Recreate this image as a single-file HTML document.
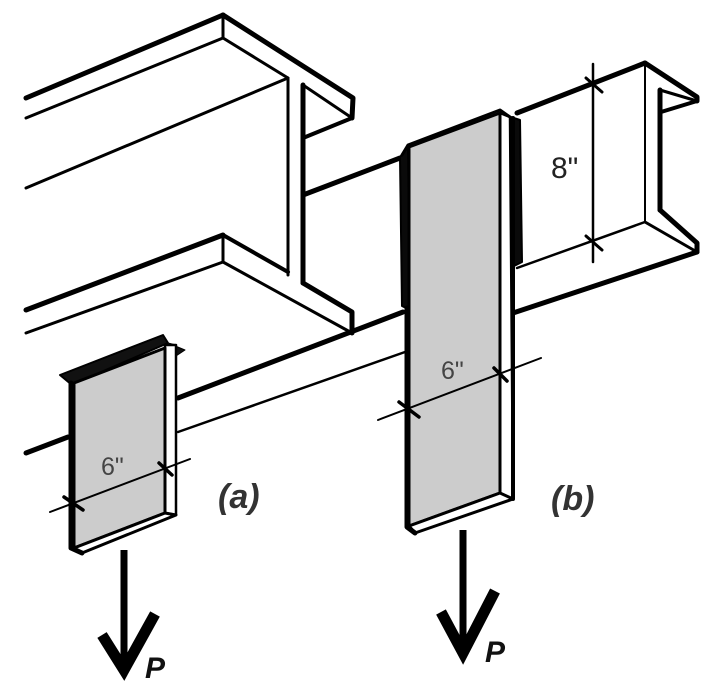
<!DOCTYPE html>
<html><head><style>html,body{margin:0;padding:0;background:#fff}svg{display:block}</style></head><body>
<svg width="716" height="687" viewBox="0 0 716 687" xmlns="http://www.w3.org/2000/svg" stroke="#000" fill="none" stroke-linecap="round" stroke-linejoin="round">
<!-- Left channel -->
<g>
<path d="M26,98 L223,15" stroke-width="5"/>
<path d="M26,118 L223,38" stroke-width="3"/>
<path d="M223,15 L223,38" stroke-width="3"/>
<path d="M223,15 L353,98 L352,118" stroke-width="5"/>
<path d="M223,38 L288,78" stroke-width="3"/>
<path d="M26,188 L288,78 L288,275" stroke-width="3"/>
<path d="M303,85 L303,283" stroke-width="5"/>
<path d="M303,85 L352,118" stroke-width="3"/>
<path d="M303,138 L352,118" stroke-width="4"/>
<path d="M26,310 L223,235" stroke-width="5"/>
<path d="M223,235 L223,262" stroke-width="3"/>
<path d="M26,333 L223,262" stroke-width="3"/>
<path d="M223,235 L288,272" stroke-width="4"/>
<path d="M223,262 L352,333" stroke-width="3"/>
<path d="M303,283 L352,312 L352,333" stroke-width="5"/>
</g>
<!-- Right channel -->
<g>
<path d="M303,195 L400,158" stroke-width="5"/>
<path d="M517,113 L645,63" stroke-width="5"/>
<path d="M645,63 L697,97 L697,101" stroke-width="5"/>
<path d="M660,90 L660,210" stroke-width="5"/>
<path d="M660,90 L697,101" stroke-width="3"/>
<path d="M661,112 L697,101" stroke-width="4"/>
<path d="M645,63 L645,222" stroke-width="2"/>
<path d="M645,222 L697,252" stroke-width="3"/>
<path d="M660,210 L697,243 L697,252" stroke-width="5"/>
<path d="M517,268 L645,222" stroke-width="2.5"/>
<path d="M513,313 L697,252" stroke-width="5"/>
<path d="M593,64 L593,262" stroke-width="2.5"/>
<path d="M586,78 L602,92 M586,236 L602,250" stroke-width="3"/>
</g>
<text x="551" y="178" font-family="Liberation Sans, sans-serif" font-size="30" fill="#222" stroke="none">8"</text>
<!-- lines between -->
<path d="M178,398 L403,312" stroke-width="5"/>
<path d="M178,432 L405,352" stroke-width="2.5"/>
<path d="M26,453 L68,437" stroke-width="5"/>
<!-- Plate (a) -->
<g>
<polygon points="60,375 163,335 168,343 76,383 72,385" fill="#111" stroke-width="2"/>
<polygon points="168,343 185,350 176,356 176,345" fill="#111" stroke-width="1"/>
<polygon points="165,345 176,345 176,515 165,513" fill="#fff" stroke-width="2.5"/>
<polygon points="74,383 165,348 165,513 74,548" fill="#cccccc" stroke-width="3"/>
<polygon points="74,548 165,513 176,515 82,553" fill="#fff" stroke-width="3"/>
<path d="M71,383 L71,548 L82,553" stroke-width="5"/>
<path d="M50,512 L190,459" stroke-width="2"/>
<path d="M64,497 L83,510 M159,463 L172,475" stroke-width="3.5"/>
</g>
<text x="101" y="475" font-family="Liberation Sans, sans-serif" font-size="25" fill="#444" stroke="none">6"</text>
<text x="218" y="508" font-family="Liberation Sans, sans-serif" font-size="34" font-weight="bold" font-style="italic" fill="#333" stroke="none">(a)</text>
<path d="M124,550 L124,668" stroke-width="7" stroke-linecap="butt"/>
<path d="M102,635 L124,670 L155,614" stroke-width="11" stroke-linecap="butt" stroke-linejoin="miter"/>
<text x="145" y="678" font-family="Liberation Sans, sans-serif" font-size="30" font-weight="bold" font-style="italic" fill="#111" stroke="none">P</text>
<!-- Plate (b) -->
<g>
<polygon points="400,157 408,147 410,310 402,306" fill="#0a0a0a" stroke-width="2"/>
<polygon points="505,115 520,120 522,262 510,268 505,262" fill="#0a0a0a" stroke-width="2"/>
<polygon points="500,113 510,117 513,499 500,493" fill="#fff" stroke-width="2.5"/>
<polygon points="409,147 500,113 500,493 409,526" fill="#cccccc" stroke-width="3"/>
<path d="M402,155 L408,145 L500,110 L510,117" stroke-width="3"/>
<polygon points="409,526 500,493 513,499 415,533" fill="#fff" stroke-width="3"/>
<path d="M407,308 L407,527 L415,533" stroke-width="5"/>
<path d="M513,118 L513,499" stroke-width="4"/>
<path d="M378,420 L541,358" stroke-width="2"/>
<path d="M399,402 L419,417 M494,368 L507,381" stroke-width="3.5"/>
</g>
<text x="441" y="379" font-family="Liberation Sans, sans-serif" font-size="25" fill="#444" stroke="none">6"</text>
<text x="551" y="510" font-family="Liberation Sans, sans-serif" font-size="34" font-weight="bold" font-style="italic" fill="#333" stroke="none">(b)</text>
<path d="M463,530 L463,652" stroke-width="7" stroke-linecap="butt"/>
<path d="M441,612 L463,653 L495,591" stroke-width="11" stroke-linecap="butt" stroke-linejoin="miter"/>
<text x="485" y="662" font-family="Liberation Sans, sans-serif" font-size="30" font-weight="bold" font-style="italic" fill="#111" stroke="none">P</text>
</svg>
</body></html>
